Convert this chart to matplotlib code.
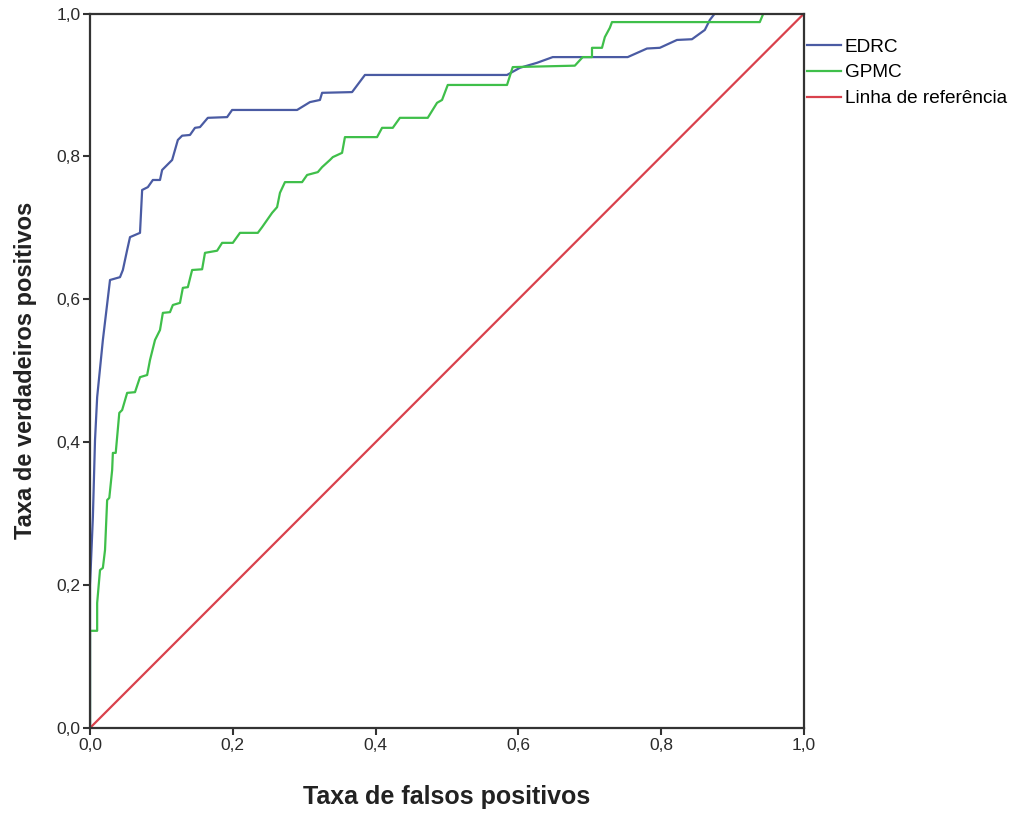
import matplotlib
matplotlib.use("Agg")
import matplotlib.pyplot as plt
from matplotlib.ticker import FuncFormatter

plt.rcParams['font.family'] = ['Liberation Sans', 'DejaVu Sans']

# ROC curve points (false positive rate, true positive rate)
edrc_fpr = [0.0, 0.0, 0.004, 0.007, 0.010, 0.018, 0.028, 0.042, 0.046, 0.052, 0.056,
            0.070, 0.073, 0.081, 0.088, 0.098, 0.101, 0.115, 0.119, 0.123, 0.129,
            0.140, 0.147, 0.154, 0.165, 0.192, 0.199, 0.290, 0.308, 0.322, 0.325,
            0.367, 0.385, 0.584, 0.602, 0.626, 0.648, 0.753, 0.780, 0.798, 0.822,
            0.843, 0.861, 0.868, 0.875, 1.0]
edrc_tpr = [0.0, 0.20, 0.295, 0.403, 0.463, 0.543, 0.627, 0.631, 0.641, 0.669, 0.687,
            0.693, 0.753, 0.757, 0.767, 0.767, 0.781, 0.795, 0.809, 0.823, 0.829,
            0.830, 0.840, 0.841, 0.854, 0.855, 0.865, 0.865, 0.876, 0.879, 0.889,
            0.890, 0.914, 0.914, 0.924, 0.931, 0.939, 0.939, 0.951, 0.952, 0.963,
            0.964, 0.977, 0.991, 1.0, 1.0]

gpmc_fpr = [0.0, 0.0, 0.010, 0.010, 0.014, 0.018, 0.021, 0.024, 0.027, 0.031, 0.032,
            0.036, 0.041, 0.045, 0.052, 0.063, 0.070, 0.080, 0.084, 0.091, 0.098,
            0.102, 0.112, 0.116, 0.126, 0.130, 0.137, 0.143, 0.157, 0.161, 0.178,
            0.185, 0.200, 0.210, 0.235, 0.241, 0.255, 0.262, 0.266, 0.273, 0.297,
            0.304, 0.319, 0.325, 0.336, 0.340, 0.353, 0.357, 0.402, 0.409, 0.424,
            0.434, 0.473, 0.486, 0.493, 0.501, 0.584, 0.592, 0.679, 0.690, 0.703,
            0.703, 0.717, 0.721, 0.728, 0.731, 0.938, 0.943, 1.0]
gpmc_tpr = [0.0, 0.136, 0.136, 0.175, 0.221, 0.224, 0.249, 0.319, 0.322, 0.361, 0.385,
            0.385, 0.441, 0.445, 0.469, 0.470, 0.491, 0.494, 0.515, 0.543, 0.557,
            0.581, 0.582, 0.592, 0.595, 0.616, 0.617, 0.641, 0.642, 0.665, 0.668,
            0.679, 0.679, 0.693, 0.693, 0.701, 0.721, 0.729, 0.749, 0.764, 0.764,
            0.774, 0.778, 0.785, 0.795, 0.799, 0.805, 0.827, 0.827, 0.840, 0.840,
            0.854, 0.854, 0.875, 0.879, 0.900, 0.900, 0.925, 0.927, 0.939, 0.939,
            0.952, 0.952, 0.967, 0.980, 0.988, 0.988, 1.0, 1.0]

ref_line = [0.0, 1.0]

series_labels = ['EDRC', 'GPMC', 'Linha de referência']
ticks = [0.0, 0.2, 0.4, 0.6, 0.8, 1.0]

fig = plt.figure(figsize=(10.16, 8.14), dpi=100)
ax = fig.add_axes([0.0886, 0.1057, 0.7028, 0.8777])

ax.plot(edrc_fpr, edrc_tpr, color='#4a5ba3', lw=1.6, label=series_labels[0])
ax.plot(gpmc_fpr, gpmc_tpr, color='#3fbf4a', lw=1.6, label=series_labels[1])
ax.plot(ref_line, ref_line, color='#d9414c', lw=1.6, label=series_labels[2])

ax.set_xlim(0, 1)
ax.set_ylim(0, 1)
ax.set_xticks(ticks)
ax.set_yticks(ticks)
comma = FuncFormatter(lambda v, pos: ('%.1f' % v).replace('.', ','))
ax.xaxis.set_major_formatter(comma)
ax.yaxis.set_major_formatter(comma)
ax.tick_params(direction='out', length=5, width=1.5, color='#333333',
               labelsize=12.5, labelcolor='#2a2a2a', pad=2)
for sp in ax.spines.values():
    sp.set_linewidth(1.6)
    sp.set_color('#333333')

ax.set_xlabel('Taxa de falsos positivos', fontsize=18, fontweight='bold',
              color='#222222', labelpad=23)
ax.set_ylabel('Taxa de verdadeiros positivos', fontsize=17, fontweight='bold',
              color='#222222', labelpad=14)

fig.legend(loc='upper left', bbox_to_anchor=(0.794, 0.953), frameon=False,
           fontsize=13.7, handlelength=1.8, handletextpad=0.2, labelspacing=0.45,
           borderaxespad=0, borderpad=0)

fig.savefig('out.png', dpi=100, facecolor='white')
